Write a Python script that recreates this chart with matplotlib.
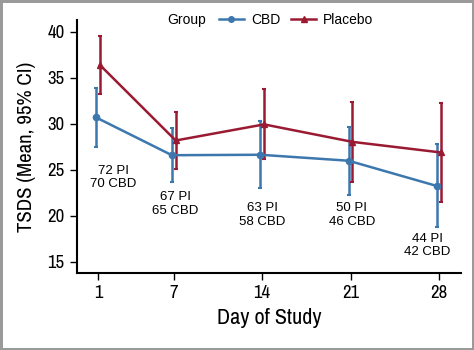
import numpy as np
import matplotlib
matplotlib.use('Agg')
import matplotlib.pyplot as plt
from matplotlib.lines import Line2D

# -----------------------------------------------------------------------
# Data
# -----------------------------------------------------------------------
DAYS = [1, 7, 14, 21, 28]

CBD_MEAN = [30.7, 26.6, 26.65, 26.0, 23.25]
CBD_LO   = [27.5, 23.7, 23.0, 22.3, 18.8]
CBD_HI   = [33.9, 29.6, 30.35, 29.7, 27.8]

PBO_MEAN = [36.4, 28.2, 29.95, 28.05, 26.9]
PBO_LO   = [33.25, 25.1, 26.15, 23.7, 21.5]
PBO_HI   = [39.55, 31.3, 33.75, 32.4, 32.3]

N_LABELS = ["72 PI\n70 CBD", "67 PI\n65 CBD", "63 PI\n58 CBD",
            "50 PI\n46 CBD", "44 PI\n42 CBD"]
N_X      = [2.2, 7.1, 14.0, 21.1, 27.1]
N_Y      = [24.2, 21.3, 20.1, 20.1, 16.8]

BLUE  = "#3c77ad"
RED   = "#9a1a32"
PLAIN = ["Liberation Sans", "DejaVu Sans"]
COND  = ["Archivo Narrow", "DejaVu Sans"]

DODGE = 0.15

fig = plt.figure(figsize=(4.74, 3.5), dpi=100)
fig.patch.set_edgecolor("#9a9a9a")
fig.patch.set_linewidth(2.5)
ax = fig.add_axes([0.1624, 0.22, 0.8102, 0.723])

x = np.array(DAYS, dtype=float)
for xs, mean, lo, hi, col, mk, ms in [
        (x - DODGE, CBD_MEAN, CBD_LO, CBD_HI, BLUE, "o", 4.5),
        (x + DODGE, PBO_MEAN, PBO_LO, PBO_HI, RED, "^", 5)]:
    mean = np.array(mean)
    err = [mean - np.array(lo), np.array(hi) - mean]
    ax.errorbar(xs, mean, yerr=err, color=col, marker=mk, markersize=ms,
                linewidth=1.8, elinewidth=1.8, capsize=1.2, capthick=1.5)

for lx, ly, txt in zip(N_X, N_Y, N_LABELS):
    ax.text(lx, ly, txt, ha="center", va="center", fontsize=9.5,
            family=PLAIN, linespacing=1.15)

ax.set_xlim(-0.67, 29.75)
ax.set_ylim(13.8, 41.3)
ax.set_xticks(DAYS)
ax.set_yticks([15, 20, 25, 30, 35, 40])
for s in ("top", "right"):
    ax.spines[s].set_visible(False)
for s in ("left", "bottom"):
    ax.spines[s].set_linewidth(1.5)
ax.tick_params(direction="out", length=5, width=1.0, labelsize=13.5, pad=4)
for lab in ax.get_xticklabels() + ax.get_yticklabels():
    lab.set_family(COND)
ax.set_xlabel("Day of Study", fontsize=16, family=COND, labelpad=5)
ax.set_ylabel("TSDS (Mean, 95% CI)", fontsize=15, family=COND, labelpad=8)

# legend row: "Group" title inline, then the two entries
fig.text(0.352, 0.943, "Group", ha="left", va="center", fontsize=10,
         family=PLAIN)
handles = [Line2D([], [], color=BLUE, marker="o", markersize=4, linewidth=1.8),
           Line2D([], [], color=RED, marker="^", markersize=4.5, linewidth=1.8)]
fig.legend(handles, ["CBD", "Placebo"], ncol=2, loc="center left",
           bbox_to_anchor=(0.462, 0.943), frameon=False,
           prop={"family": PLAIN, "size": 10}, handlelength=1.8,
           handletextpad=0.5, columnspacing=0.8, borderpad=0,
           borderaxespad=0)

fig.savefig("out.png", dpi=100, edgecolor=fig.get_edgecolor())
